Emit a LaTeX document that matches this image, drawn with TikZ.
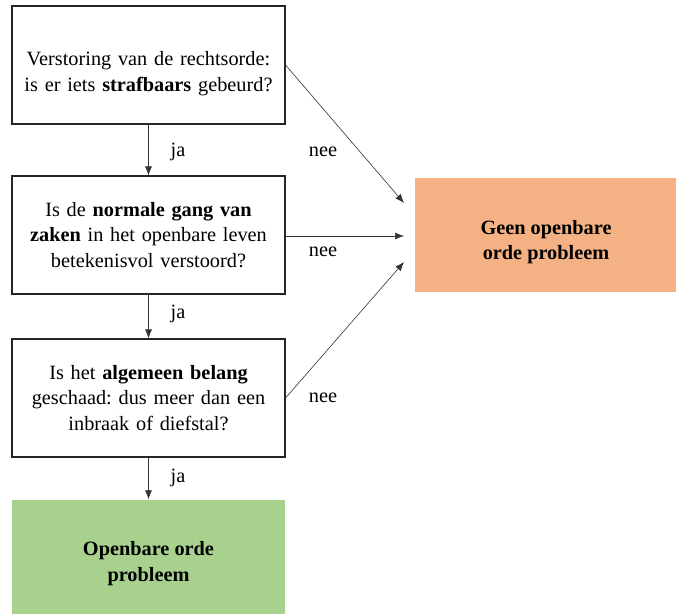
\documentclass[tikz,border=0pt]{standalone}
\usepackage{fontspec}
\setmainfont{Liberation Serif}
\usetikzlibrary{arrows.meta}
\definecolor{geenorange}{HTML}{F4B183}
\definecolor{welgreen}{HTML}{A9D18E}
\frenchspacing

\begin{document}
\begin{tikzpicture}[x=1pt,y=-1pt,
  vraag/.style={draw=black!85,line width=1.1pt,minimum width=273pt,minimum height=118pt,
    text width=268pt,align=center,inner sep=0pt,font=\fontsize{20.3}{25.5}\selectfont},
  uitkomst/.style={fill=#1,minimum height=114pt,align=center,inner sep=0pt,
    font=\fontsize{20.3}{25.5}\selectfont\bfseries},
  pijl/.style={draw=black!80,line width=0.6pt,-{Latex[length=9pt,width=7pt]}},
  lbl/.style={font=\fontsize{20.3}{22}\selectfont}]
\useasboundingbox (0,0) rectangle (676,613);

% vragen:
\node[vraag] (v1) at (148.5,65) {\rule{0pt}{31pt}Verstoring van de rechtsorde:\\is er iets \textbf{strafbaars} gebeurd?};
\node[vraag] (v2) at (148.5,235) {Is de \textbf{normale gang van}\\\textbf{zaken} in het openbare leven\\betekenisvol verstoord?};
\node[vraag] (v3) at (148.5,398) {Is het \textbf{algemeen belang}\\geschaad: dus meer dan een\\inbraak of diefstal?};

% uitkomsten:
\node[uitkomst=welgreen,minimum width=273pt] (ja) at (148.5,556.5) {\rule{0pt}{28pt}Openbare orde\\probleem};
\node[uitkomst=geenorange,minimum width=262pt] (nee) at (546,235) {\rule{0pt}{28pt}Geen openbare\\orde probleem};

\coordinate (in1) at (404,203);
\coordinate (in2) at (404,236);
\coordinate (in3) at (404,262);

% pijlen:
\draw[pijl] (v1.south) -- (v2.north);
\draw[pijl] (v2.south) -- (v3.north);
\draw[pijl] (v3.south) -- (ja.north);
\draw[pijl] (v1.east) -- (in1);
\draw[pijl] (v2.east |- in2) -- (in2);
\draw[pijl] (v3.east) -- (in3);

\node[lbl] (ja1) at (178,152) {ja};
\node[lbl] (ja2) at (178,314) {ja};
\node[lbl] (ja3) at (178,478) {ja};
\node[lbl] (nee1) at (323,152) {nee};
\node[lbl] (nee2) at (323,252) {nee};
\node[lbl] (nee3) at (323,398) {nee};

\end{tikzpicture}
\end{document}
